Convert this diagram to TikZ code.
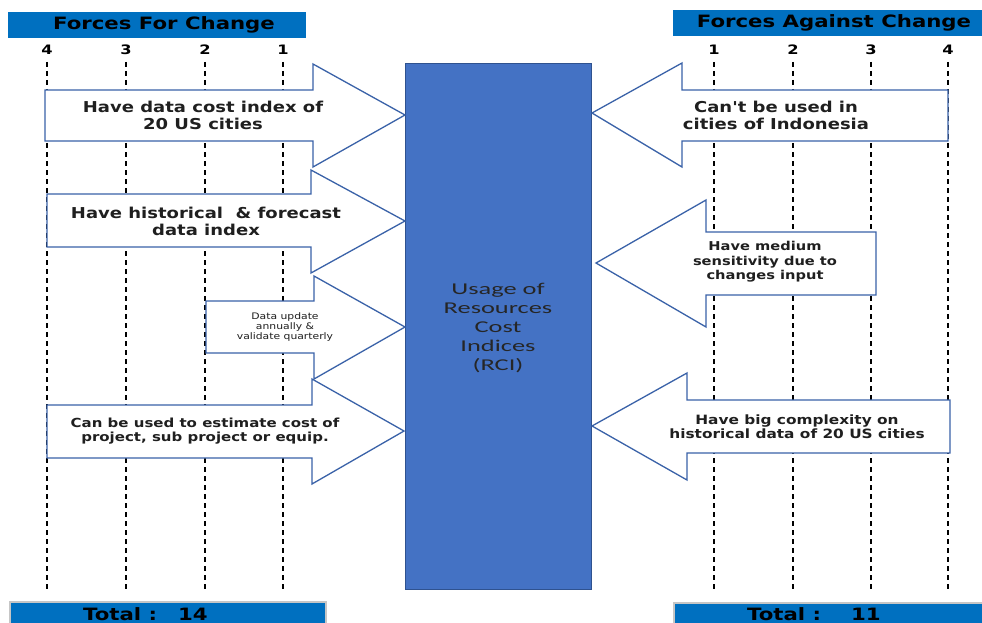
\documentclass[tikz,border=0pt]{standalone}
\usepackage{fontspec}
\newfontfamily\hdrfont[FakeStretch=1.25]{DejaVu Sans}
\newfontfamily\arrfont[FakeStretch=1.2]{DejaVu Sans}
\newfontfamily\ctrfont[FakeStretch=1.6]{Carlito}
\definecolor{hdrblue}{HTML}{0070C0}
\definecolor{ctrblue}{HTML}{4472C4}
\definecolor{ctredge}{HTML}{2F528F}
\definecolor{arredge}{HTML}{3A62A8}
\begin{document}
\begin{tikzpicture}[x=1pt,y=-1pt,
  guide/.style={black, line width=1.8pt, dash pattern=on 5pt off 4pt},
  forcearrow/.style={draw=arredge, fill=white, line width=1.3pt, line join=miter},
  hdrbox/.style={fill=hdrblue, draw=none},
  totbox/.style={fill=hdrblue, draw=gray!45, line width=1.5pt},
  hdrtext/.style={font=\hdrfont\bfseries\fontsize{17}{19}\selectfont, text=black, inner sep=0pt},
  numtext/.style={font=\hdrfont\bfseries\fontsize{13}{15}\selectfont, text=black, inner sep=0pt},
  arrtext/.style={align=center, inner sep=0pt, text=black!88},
]
\clip (0,0) rectangle (982,623);
\fill[white] (0,0) rectangle (982,623);

% header boxes
\fill[hdrbox] (8,12) rectangle (306,38);
\node[hdrtext] (hl) at (164,25) {Forces For Change};
\fill[hdrbox] (673,10) rectangle (984,36);
\node[hdrtext] (hr) at (834,23) {Forces Against Change};

% scale numbers and guide lines
\foreach \x/\n/\nm in {47/4/L4,126/3/L3,205/2/L2,283/1/L1,714/1/R1,793/2/R2,871/3/R3,948/4/R4}{
  \node[numtext] (\nm) at (\x,50) {\n};
  \coordinate (\nm top) at (\x,62);
  \coordinate (\nm bot) at (\x,591);
  \draw[guide] (\nm top) -- (\nm bot);
}

% center block
\node[draw=ctredge, fill=ctrblue, line width=1.2pt, minimum width=186pt, minimum height=526pt, anchor=north west, inner sep=0pt] (rci) at (405,63) {};
\node[align=center, inner sep=0pt, text=black!85, font=\ctrfont\fontsize{16.5}{19}\selectfont] (rcitext) at (498,328) {Usage of\\Resources\\Cost\\Indices\\(RCI)};

% forces for change (right-pointing)
\draw[forcearrow] (45,90) -- (313,90) -- (313,64) -- (405,115) -- (313,167) -- (313,141) -- (45,141) -- cycle;
\node[arrtext, font=\arrfont\bfseries\fontsize{15}{17}\selectfont] (f1) at (203,115) {Have data cost index of\\20 US cities};

\draw[forcearrow] (47,194) -- (311,194) -- (311,170) -- (405,221) -- (311,273) -- (311,247) -- (47,247) -- cycle;
\node[arrtext, font=\arrfont\bfseries\fontsize{15}{17}\selectfont] (f2) at (206,221) {Have historical \ \& forecast\\data index};

\draw[forcearrow] (206,301) -- (314,301) -- (314,276) -- (405,327) -- (314,379) -- (314,353) -- (206,353) -- cycle;
\node[arrtext, font=\arrfont\fontsize{9}{10}\selectfont] (f3) at (285,327) {Data update\\annually \&\\validate quarterly};

\draw[forcearrow] (47,405) -- (312,405) -- (312,379) -- (404,431) -- (312,484) -- (312,458) -- (47,458) -- cycle;
\node[arrtext, font=\arrfont\bfseries\fontsize{12.5}{13.5}\selectfont] (f4) at (205,431) {Can be used to estimate cost of\\project, sub project or equip.};

% forces against change (left-pointing)
\draw[forcearrow] (592,113) -- (682,63) -- (682,90) -- (948,90) -- (948,141) -- (682,141) -- (682,167) -- cycle;
\node[arrtext, font=\arrfont\bfseries\fontsize{15}{17}\selectfont] (a1) at (776,115) {Can't be used in\\cities of Indonesia};

\draw[forcearrow] (596,263) -- (706,200) -- (706,232) -- (876,232) -- (876,295) -- (706,295) -- (706,327) -- cycle;
\node[arrtext, font=\arrfont\bfseries\fontsize{12.2}{14.5}\selectfont] (a2) at (765,262) {Have medium\\sensitivity due to\\changes input};

\draw[forcearrow] (592,426) -- (687,373) -- (687,400) -- (950,400) -- (950,453) -- (687,453) -- (687,480) -- cycle;
\node[arrtext, font=\arrfont\bfseries\fontsize{12.8}{14}\selectfont] (a3) at (797,427) {Have big complexity on\\historical data of 20 US cities};

% totals
\draw[totbox] (10,602) rectangle (326,632);
\node[hdrtext, anchor=base west] (tl) at (83,620) {Total :\hspace{21pt}14};
\draw[totbox] (674,603) rectangle (990,632);
\node[hdrtext, anchor=base west] (tr) at (747,620) {Total :\hspace{30pt}11};
\end{tikzpicture}
\end{document}
